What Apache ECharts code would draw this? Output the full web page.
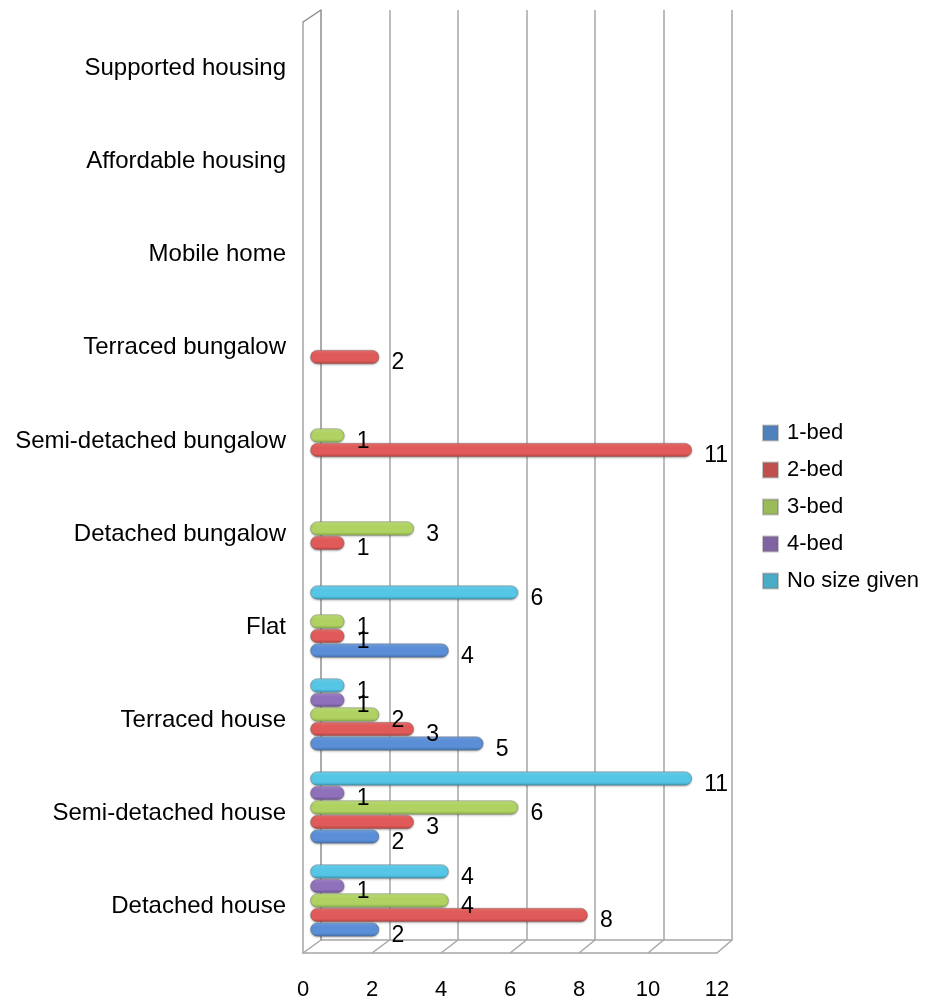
<!DOCTYPE html>
<html>
<head>
<meta charset="utf-8">
<script src="https://cdn.jsdelivr.net/npm/echarts@6/dist/echarts.min.js"></script>
<style>
  html, body { margin: 0; padding: 0; background: #ffffff; }
  #chart { width: 931px; height: 1003px; }
</style>
</head>
<body>
<div id="chart"></div>
<script>
// Housing types (bottom to top) and number of homes wanted per size
const categories = [
  'Detached house', 'Semi-detached house', 'Terraced house', 'Flat',
  'Detached bungalow', 'Semi-detached bungalow', 'Terraced bungalow',
  'Mobile home', 'Affordable housing', 'Supported housing'
];
const seriesNames = ['1-bed', '2-bed', '3-bed', '4-bed', 'No size given'];
const oneBed   = [2, 2, 5, 4, null, null, null, null, null, null];
const twoBed   = [8, 3, 3, 1, 1, 11, 2, null, null, null];
const threeBed = [4, 6, 2, 1, 3, 1, null, null, null, null];
const fourBed  = [1, 1, 1, null, null, null, null, null, null, null];
const noSize   = [4, 11, 1, 6, null, null, null, null, null, null];
const xTicks   = [0, 2, 4, 6, 8, 10, 12];

const seriesValues = [oneBed, twoBed, threeBed, fourBed, noSize];

// Flat legend colours and cylinder shading (light top, base, dark bottom)
const baseColors = ['#4F81BD', '#C0504D', '#9BBB59', '#8064A2', '#4BACC6'];
const shades = [
  ['#79a5e3', '#5a8ed6', '#3e6aa6'],
  ['#ec7472', '#df5a58', '#ae403e'],
  ['#c6e383', '#afd262', '#86a843'],
  ['#a78ccf', '#8f70ba', '#684e8d'],
  ['#79d5ef', '#55c6e6', '#3694b2']
];

// Three stacked planes give the 3-D box: back wall, bar plane, front edge
const back  = { left: 321, top: 10, width: 411, height: 930 };
const mid   = { left: 310, top: 17, width: 417, height: 930 };
const front = { left: 303, top: 22, width: 414, height: 931 };
const wallColor = '#a6a6a6';
const xMin = xTicks[0], xMax = xTicks[xTicks.length - 1], xStep = xTicks[1] - xTicks[0];
const fontFamily = '"Liberation Sans", Arial, sans-serif';

const chart = echarts.init(document.getElementById('chart'), null, { renderer: 'canvas' });

// Horizontal bars stack their series from the top of each band, so the
// series are added last-to-first to keep 1-bed at the bottom of each group.
const order = seriesNames.map((_, i) => i).reverse();

const option = {
  backgroundColor: '#ffffff',
  animation: false,
  textStyle: { fontFamily: fontFamily },
  grid: [
    Object.assign({ containLabel: false }, back),
    Object.assign({ containLabel: false }, mid),
    Object.assign({ containLabel: false }, front)
  ],
  xAxis: [
    {
      gridIndex: 0, type: 'value', min: xMin, max: xMax, interval: xStep,
      axisLabel: { show: false }, axisTick: { show: false },
      axisLine: { show: true, lineStyle: { color: wallColor, width: 1.5 } },
      splitLine: { show: true, lineStyle: { color: wallColor, width: 1.5 } }
    },
    {
      gridIndex: 1, type: 'value', min: xMin, max: xMax, interval: xStep, show: false
    },
    {
      gridIndex: 2, type: 'value', min: xMin, max: xMax, interval: xStep,
      axisTick: { show: false }, splitLine: { show: false },
      axisLine: { show: true, lineStyle: { color: wallColor, width: 1.5 } },
      axisLabel: { show: true, fontSize: 22, color: '#000', margin: 26 }
    }
  ],
  yAxis: [
    {
      gridIndex: 0, type: 'category', data: categories,
      axisLabel: { show: false }, axisTick: { show: false }, splitLine: { show: false },
      axisLine: { show: true, lineStyle: { color: wallColor, width: 1.5 } }
    },
    {
      gridIndex: 1, type: 'category', data: categories, show: false
    },
    {
      gridIndex: 2, type: 'category', data: categories,
      axisTick: { show: false }, splitLine: { show: false },
      axisLine: { show: true, lineStyle: { color: wallColor, width: 1.5 } },
      axisLabel: { show: true, fontSize: 24, color: '#000', margin: 17 }
    }
  ],
  legend: {
    orient: 'vertical',
    left: 762,
    top: 422,
    padding: 0,
    itemWidth: 15,
    itemHeight: 15,
    itemGap: 15,
    icon: 'rect',
    textStyle: { fontSize: 22, lineHeight: 22, color: '#000', padding: [0, 0, 0, 4] },
    data: seriesNames.map((n, i) => ({ name: n, itemStyle: { color: baseColors[i] } }))
  },
  series: order.map(i => ({
    name: seriesNames[i],
    type: 'bar',
    xAxisIndex: 1,
    yAxisIndex: 1,
    data: seriesValues[i],
    barGap: '0%',
    barCategoryGap: '22%',
    itemStyle: {
      color: new echarts.graphic.LinearGradient(0, 0, 0, 1, [
        { offset: 0, color: shades[i][0] },
        { offset: 0.3, color: shades[i][1] },
        { offset: 0.75, color: shades[i][1] },
        { offset: 1, color: shades[i][2] }
      ]),
      borderRadius: 7,
      borderColor: 'rgba(110,110,110,0.4)',
      borderWidth: 1,
      shadowColor: 'rgba(0,0,0,0.25)',
      shadowBlur: 2,
      shadowOffsetY: 1
    },
    label: {
      show: true,
      position: 'right',
      distance: 12,
      offset: [0, 6],
      fontSize: 23,
      color: '#000',
      formatter: p => p.value
    },
    z: 3
  }))
};

chart.setOption(option);

// Floor and wall edges joining front ticks to back ticks
const frontBottom = front.top + front.height;
const backBottom = back.top + back.height;
const edges = xTicks.map(v => {
  const fx = chart.convertToPixel({ xAxisIndex: 2 }, v);
  const bx = chart.convertToPixel({ xAxisIndex: 0 }, v);
  return {
    type: 'line',
    shape: { x1: fx, y1: frontBottom, x2: bx, y2: backBottom },
    style: { stroke: wallColor, lineWidth: 1.5 },
    z: 1
  };
});
const fx0 = chart.convertToPixel({ xAxisIndex: 2 }, xMin);
const bx0 = chart.convertToPixel({ xAxisIndex: 0 }, xMin);
edges.push({
  type: 'line',
  shape: { x1: fx0, y1: front.top, x2: bx0, y2: back.top },
  style: { stroke: '#8c8c8c', lineWidth: 1.5 },
  z: 1
});
chart.setOption({ graphic: { elements: edges } });
</script>
</body>
</html>
